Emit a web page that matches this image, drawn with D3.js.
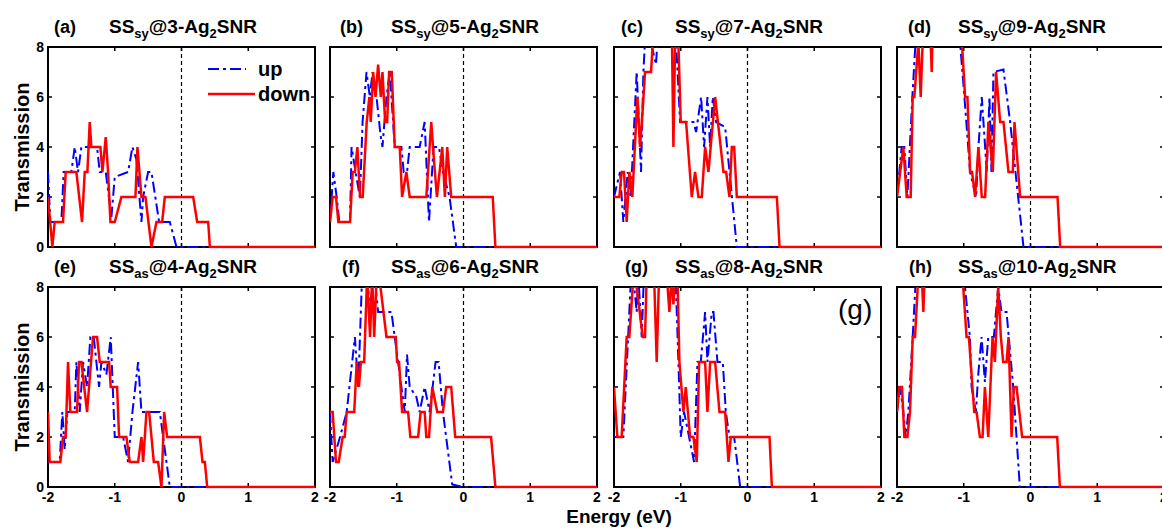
<!DOCTYPE html>
<html>
<head>
<meta charset="utf-8">
<script src="https://cdn.jsdelivr.net/npm/d3@7"></script>
<style>
  body { margin: 0; background: #fff; }
  svg { display: block; font-family: "Liberation Sans", Arial, sans-serif; }
</style>
</head>
<body>
<svg id="chart" width="1162" height="528"></svg>
<script>
// panel labels, titles
var panelTags = ["(a)", "(b)", "(c)", "(d)", "(e)", "(f)", "(g)", "(h)"];
var panelSubs = ["sy", "sy", "sy", "sy", "as", "as", "as", "as"];
var panelNums = ["3", "5", "7", "9", "4", "6", "8", "10"];
var xTicks = [-2, -1, 0, 1, 2];
var yTicks = [0, 2, 4, 6, 8];

// transmission, [energy (eV), T] -- values above 8 are clipped by the frame
var upA = [[-2,3],[-1.965,1],[-1.8,1],[-1.765,3],[-1.65,3],[-1.6,4],[-1.55,3],[-1.5,4],[-1.265,4],[-1.225,3],[-1.135,3],[-1.05,1.2],[-1,2.8],[-0.8,3],[-0.735,4],[-0.675,3.5],[-0.6,1],[-0.575,2],[-0.5,3],[-0.45,3],[-0.335,1],[-0.175,1],[-0.075,0],[2,0]];
var downA = [[-2,2],[-1.935,0],[-1.9,1],[-1.775,1],[-1.735,3],[-1.575,3],[-1.49,1],[-1.45,3],[-1.41,3],[-1.375,5],[-1.35,4],[-1.215,4],[-1.185,3],[-1.135,4.4],[-1.1,3],[-1.065,1],[-1,1],[-0.9,2],[-0.69,2],[-0.66,4],[-0.6,2],[-0.54,2],[-0.45,0],[-0.375,1],[-0.29,1],[-0.25,2],[0.175,2],[0.235,1],[0.4,1],[0.425,0],[2,0]];

var upB = [[-2,1],[-1.95,3],[-1.9,2],[-1.86,1],[-1.7,1],[-1.677,4],[-1.617,3],[-1.552,2],[-1.512,5],[-1.453,7],[-1.403,6],[-1.363,7],[-1.303,6],[-1.244,4.5],[-1.214,4],[-1.154,6],[-1.104,7],[-1.03,4],[-0.93,4],[-0.896,3],[-0.846,3],[-0.806,4],[-0.657,4],[-0.582,5],[-0.517,1],[-0.448,4],[-0.368,4],[-0.308,3],[-0.209,2],[-0.109,0],[2,0]];
var downB = [[-2,1],[-1.96,2],[-1.91,2],[-1.875,1],[-1.7,1],[-1.66,3],[-1.627,3],[-1.59,4],[-1.55,2],[-1.51,2],[-1.45,5],[-1.41,6],[-1.39,5],[-1.353,7],[-1.318,6],[-1.279,7.3],[-1.239,6],[-1.214,7],[-1.174,5],[-1.144,5],[-1.114,7],[-1.075,7],[-1.03,4],[-0.955,4],[-0.92,2],[-0.856,3],[-0.806,2],[-0.557,2],[-0.483,5],[-0.443,3.5],[-0.398,2],[-0.318,4],[-0.279,2],[-0.244,4],[-0.184,2],[0.438,2],[0.478,0],[2,0]];

var upC = [[-2,2],[-1.91,3],[-1.86,1],[-1.795,3],[-1.75,2],[-1.66,7],[-1.595,3],[-1.56,7],[-1.52,9],[-1.37,7.3],[-1.335,9],[-1.085,9],[-1.01,5],[-0.81,5],[-0.77,4.6],[-0.695,6],[-0.65,4],[-0.6,6],[-0.56,4],[-0.52,6],[-0.47,5],[-0.335,4.8],[-0.16,0],[2,0]];
var downC = [[-2,2],[-1.92,2],[-1.885,3],[-1.85,3],[-1.81,1],[-1.77,3],[-1.725,2],[-1.65,6],[-1.61,4],[-1.57,5.5],[-1.535,7],[-1.445,7],[-1.4,9],[-1.135,9],[-1.11,4],[-1.08,9],[-1.045,9],[-1,5],[-0.92,5],[-0.835,2],[-0.785,3],[-0.735,2],[-0.685,2],[-0.635,4],[-0.585,3],[-0.485,6],[-0.36,3],[-0.32,3],[-0.27,2],[-0.235,4],[-0.2,4],[-0.16,2],[0.44,2],[0.48,0],[2,0]];

var upD = [[-2,2],[-1.93,4],[-1.89,4],[-1.845,2],[-1.77,6],[-1.705,9],[-1.08,9],[-0.99,6],[-0.905,3],[-0.815,2],[-0.78,4],[-0.73,6],[-0.655,3],[-0.615,6],[-0.585,3],[-0.555,7],[-0.405,7.1],[-0.305,5],[-0.105,0],[2,0]];
var downD = [[-2,2],[-1.905,4],[-1.855,2],[-1.795,2],[-1.765,6],[-1.74,6],[-1.68,8.2],[-1.645,6],[-1.605,9],[-1.505,9],[-1.48,7],[-1.465,9],[-1.045,9],[-0.98,6],[-0.945,6],[-0.905,3],[-0.875,3],[-0.83,2],[-0.78,4],[-0.73,2],[-0.68,2],[-0.63,5],[-0.565,3],[-0.515,7],[-0.455,5],[-0.405,5],[-0.33,3],[-0.265,3],[-0.24,5],[-0.155,2],[0.405,2],[0.445,0],[2,0]];

var upE = [[-2,1],[-1.825,1],[-1.785,3],[-1.75,1.5],[-1.71,3],[-1.6,3],[-1.575,5],[-1.525,3],[-1.475,5],[-1.415,4],[-1.365,6],[-1.315,6],[-1.235,4],[-1.2,5],[-1.125,4.5],[-1.06,6],[-1,2],[-0.875,2],[-0.8,1],[-0.735,3],[-0.65,5],[-0.6,3],[-0.325,3],[-0.175,0],[2,0]];
var downE = [[-2,3],[-1.975,1],[-1.815,1],[-1.775,2],[-1.735,2],[-1.7,5],[-1.665,3],[-1.565,3],[-1.535,5],[-1.5,5],[-1.415,3],[-1.325,6],[-1.265,6],[-1.225,5],[-1.085,5],[-1.06,4],[-0.965,4],[-0.935,2],[-0.825,2],[-0.775,1],[-0.65,1],[-0.6,2],[-0.575,1],[-0.525,3],[-0.485,3],[-0.415,1],[-0.35,1],[-0.3,0],[-0.26,3],[-0.215,2],[0.275,2],[0.315,1],[0.35,1],[0.385,0],[2,0]];

var upF = [[-2,3],[-1.96,1],[-1.85,2],[-1.75,3],[-1.627,6],[-1.577,4],[-1.512,9],[-1.388,7.3],[-1.353,9],[-1.279,7],[-1.229,7],[-1.08,7],[-0.98,5],[-0.88,3],[-0.846,5.3],[-0.806,4],[-0.706,3.6],[-0.657,3],[-0.582,4],[-0.507,3],[-0.418,5],[-0.373,5],[-0.308,3],[-0.169,0.1],[-0.01,0],[2,0]];
var downF = [[-2,3],[-1.96,3],[-1.91,1],[-1.87,1],[-1.81,2],[-1.78,2],[-1.75,3],[-1.637,3],[-1.6,5],[-1.567,4],[-1.537,5],[-1.488,5],[-1.443,8.5],[-1.4,6],[-1.368,8.5],[-1.338,6],[-1.3,8.5],[-1.244,8],[-1.154,6],[-1.015,6],[-0.995,5],[-0.965,5],[-0.92,3],[-0.83,3],[-0.796,2],[-0.68,2],[-0.642,3],[-0.582,3],[-0.557,2],[-0.517,2],[-0.468,4],[-0.393,3],[-0.308,3],[-0.259,4],[-0.184,4],[-0.124,2],[0.413,2],[0.478,0],[2,0]];

var upG = [[-2,2],[-1.86,2],[-1.735,9],[-1.66,7],[-1.635,8.5],[-1.585,6],[-1.545,9],[-1.085,9],[-1.035,5],[-1,2],[-0.95,3],[-0.875,2],[-0.8,1],[-0.75,5],[-0.7,5],[-0.635,7],[-0.6,5],[-0.535,7],[-0.51,7],[-0.45,5],[-0.37,5],[-0.325,3],[-0.27,2],[-0.2,2],[-0.11,0],[2,0]];
var downG = [[-2,4],[-1.95,2],[-1.885,2],[-1.81,6],[-1.77,6],[-1.72,8],[-1.66,8],[-1.57,6],[-1.535,6],[-1.51,8.5],[-1.4,8.5],[-1.36,5],[-1.325,8.5],[-1.21,8.5],[-1.17,7],[-1.135,8.5],[-1.11,7.3],[-1.085,8.5],[-1.05,8.5],[-1.02,5],[-0.96,3],[-0.925,4],[-0.86,2],[-0.81,2],[-0.76,1],[-0.725,5],[-0.635,5],[-0.6,3],[-0.56,5],[-0.485,5],[-0.42,3],[-0.335,3],[-0.285,1],[-0.25,2],[0.33,2],[0.365,0],[2,0]];

var upH = [[-2,3],[-1.955,4],[-1.905,3],[-1.87,2],[-1.83,3],[-1.765,6],[-1.705,9],[-1.018,9],[-0.908,6],[-0.883,4],[-0.818,3],[-0.783,4.5],[-0.733,6],[-0.683,4.2],[-0.633,6],[-0.549,6],[-0.484,8],[-0.434,7],[-0.359,7],[-0.259,4],[-0.16,0],[2,0]];
var downH = [[-2,3],[-1.965,4],[-1.925,4],[-1.89,2],[-1.845,2],[-1.805,3],[-1.765,6],[-1.73,6],[-1.68,8.5],[-1.63,8.5],[-1.605,7],[-1.58,9],[-1.033,9],[-0.958,6],[-0.923,6],[-0.843,3],[-0.808,3],[-0.758,2],[-0.718,2],[-0.683,4],[-0.633,2],[-0.569,6],[-0.534,5],[-0.484,8],[-0.444,6],[-0.409,5],[-0.359,5],[-0.329,6],[-0.284,2],[-0.249,4],[-0.209,4],[-0.125,2],[0.4,2],[0.44,0],[2,0]];

var upSets = [upA, upB, upC, upD, upE, upF, upG, upH];
var downSets = [downA, downB, downC, downD, downE, downF, downG, downH];

// layout
var colLeft = [48, 330, 614, 897];
var rowTop = [47, 287];
var pw = 267, ph = 200;
var tagDx = [6, 10, 7, 11, 6, 12, 11, 12];

var svg = d3.select("#chart");

var x = d3.scaleLinear().domain([-2, 2]).range([0, pw]);
var y = d3.scaleLinear().domain([0, 8]).range([ph, 0]);

var line = d3.line()
  .x(function (d) { return x(d[0]); })
  .y(function (d) { return y(d[1]); });

var defs = svg.append("defs");
defs.append("clipPath")
  .attr("id", "plotClip")
  .append("rect")
  .attr("x", 0).attr("y", 0)
  .attr("width", pw).attr("height", ph + 1.5);

for (var i = 0; i < 8; i++) {
  var col = i % 4, row = Math.floor(i / 4);
  var g = svg.append("g")
    .attr("transform", "translate(" + colLeft[col] + "," + rowTop[row] + ")");

  // ticks, all four sides, inward
  var tk = 4;
  [-1, 0, 1].forEach(function (t) {
    g.append("line").attr("x1", x(t)).attr("x2", x(t)).attr("y1", 0).attr("y2", tk)
      .attr("stroke", "#000").attr("stroke-width", 1.5);
    g.append("line").attr("x1", x(t)).attr("x2", x(t)).attr("y1", ph).attr("y2", ph - tk)
      .attr("stroke", "#000").attr("stroke-width", 1.5);
  });
  [2, 4, 6].forEach(function (t) {
    g.append("line").attr("x1", 0).attr("x2", tk).attr("y1", y(t)).attr("y2", y(t))
      .attr("stroke", "#000").attr("stroke-width", 1.5);
    g.append("line").attr("x1", pw).attr("x2", pw - tk).attr("y1", y(t)).attr("y2", y(t))
      .attr("stroke", "#000").attr("stroke-width", 1.5);
  });

  // fermi level
  g.append("line")
    .attr("x1", x(0)).attr("x2", x(0)).attr("y1", 0).attr("y2", ph)
    .attr("stroke", "#000").attr("stroke-width", 1.2)
    .attr("stroke-dasharray", "4,3");

  // frame
  g.append("rect")
    .attr("x", 0).attr("y", 0).attr("width", pw).attr("height", ph)
    .attr("fill", "none").attr("stroke", "#000").attr("stroke-width", 2);

  var plot = g.append("g").attr("clip-path", "url(#plotClip)");
  plot.append("path")
    .datum(upSets[i])
    .attr("d", line)
    .attr("fill", "none")
    .attr("stroke", "#0000ff")
    .attr("stroke-width", 2)
    .attr("stroke-dasharray", "11,4,3,4");
  plot.append("path")
    .datum(downSets[i])
    .attr("d", line)
    .attr("fill", "none")
    .attr("stroke", "#ff0000")
    .attr("stroke-width", 2.5)
    .attr("stroke-linejoin", "miter");

  // y tick labels on the left column
  if (col === 0) {
    g.selectAll(".ytl")
      .data(yTicks)
      .enter()
      .append("text")
      .attr("x", -4)
      .attr("y", function (d) { return y(d); })
      .attr("dy", "0.36em")
      .attr("text-anchor", "end")
      .style("font-size", "14px")
      .style("font-weight", "bold")
      .text(function (d) { return d; });
  }
  // x tick labels on the bottom row
  if (row === 1) {
    g.selectAll(".xtl")
      .data(xTicks)
      .enter()
      .append("text")
      .attr("x", function (d) { return x(d); })
      .attr("y", ph + 15)
      .attr("text-anchor", "middle")
      .style("font-size", "14px")
      .style("font-weight", "bold")
      .text(function (d) { return d; });
  }

  // panel tag + title
  g.append("text")
    .attr("x", tagDx[i])
    .attr("y", -14)
    .style("font-size", "18px")
    .style("font-weight", "bold")
    .text(panelTags[i]);

  var title = g.append("text")
    .attr("x", 61)
    .attr("y", -14)
    .style("font-size", "19px")
    .style("font-weight", "bold");
  title.append("tspan").text("SS");
  title.append("tspan").attr("dy", 5).style("font-size", "13px").text(panelSubs[i]);
  title.append("tspan").attr("dy", -5).text("@" + panelNums[i] + "-Ag");
  title.append("tspan").attr("dy", 5).style("font-size", "13px").text("2");
  title.append("tspan").attr("dy", -5).text("SNR");
}

// axis titles
[147, 387].forEach(function (cy) {
  svg.append("text")
    .attr("transform", "translate(29," + cy + ") rotate(-90)")
    .attr("text-anchor", "middle")
    .style("font-size", "20px")
    .style("font-weight", "bold")
    .text("Transmission");
});
svg.append("text")
  .attr("x", 619)
  .attr("y", 523)
  .attr("text-anchor", "middle")
  .style("font-size", "19px")
  .style("font-weight", "bold")
  .text("Energy (eV)");

// legend, panel (a)
var lg = svg.append("g");
lg.append("line").attr("x1", 208).attr("x2", 246).attr("y1", 69).attr("y2", 69)
  .attr("stroke", "#0000ff").attr("stroke-width", 2).attr("stroke-dasharray", "11,4,3,4");
lg.append("text").attr("x", 258).attr("y", 76)
  .style("font-size", "20px").style("font-weight", "bold").text("up");
lg.append("line").attr("x1", 208).attr("x2", 255).attr("y1", 94).attr("y2", 94)
  .attr("stroke", "#ff0000").attr("stroke-width", 2.5);
lg.append("text").attr("x", 258).attr("y", 101)
  .style("font-size", "20px").style("font-weight", "bold").text("down");

// stray label in panel (g)
svg.append("text")
  .attr("x", 838)
  .attr("y", 319)
  .style("font-size", "28px")
  .text("(g)");
</script>
</body>
</html>
